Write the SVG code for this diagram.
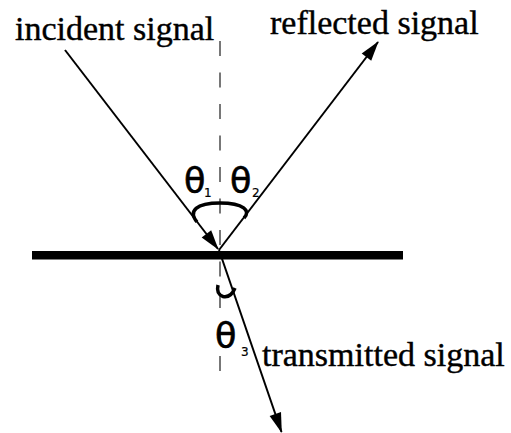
<svg xmlns="http://www.w3.org/2000/svg" width="511" height="433" viewBox="0 0 511 433">
<defs>
<style>
.lbl{font-family:"Liberation Serif","Times New Roman",serif;font-size:34px;fill:#000;stroke:#000;stroke-width:0.4}
.th{font-family:"DejaVu Sans","Liberation Sans",sans-serif;font-size:35px;fill:#000;stroke:#000;stroke-width:0.6}
.sub{font-family:"DejaVu Sans","Liberation Sans",sans-serif;font-size:12px;fill:#000;stroke:#000;stroke-width:0.2}
.ray{stroke:#000;stroke-width:2;fill:none}
.arc{stroke:#000;stroke-width:3.5;fill:none}
</style>
<marker id="ah" markerUnits="userSpaceOnUse" markerWidth="24" markerHeight="16" viewBox="-20 -8 22 16" refX="0" refY="0" orient="auto">
<path d="M1,0 L-19,-6 L-19,6 Z" fill="#000"/>
</marker>
</defs>
<rect width="511" height="433" fill="#fff"/>
<g id="surface">
<rect x="32" y="251" width="371" height="8.5" fill="#000"/>
</g>
<g id="normal">
<line x1="220" y1="41" x2="220" y2="384" stroke="#777" stroke-width="2" stroke-dasharray="15 16.5"/>
</g>
<g id="connectors">
<line class="ray" x1="65" y1="50" x2="218" y2="249" marker-end="url(#ah)"/>
<line class="ray" x1="219" y1="250" x2="378" y2="42" marker-end="url(#ah)"/>
<line class="ray" x1="219" y1="250" x2="281.5" y2="432" marker-end="url(#ah)"/>
</g>
<g id="angles">
<path class="arc" d="M197,222 C188,211 196,203 220,203 C244,203 251,211 244,218"/>
<path class="arc" d="M218,285 Q216,294 223,296.5 Q231,298 235,288"/>
</g>
<g id="incident-label"><text class="lbl" x="15" y="40">incident signal</text></g>
<g id="reflected-label"><text class="lbl" x="270" y="34">reflected signal</text></g>
<g id="transmitted-label"><text class="lbl" x="262" y="366">transmitted signal</text></g>
<g id="theta1"><text class="th" x="184" y="193">θ</text><text class="sub" x="204" y="197">1</text></g>
<g id="theta2"><text class="th" x="230" y="193">θ</text><text class="sub" x="252" y="197">2</text></g>
<g id="theta3"><text class="th" x="215" y="348">θ</text><text class="sub" x="241" y="356">3</text></g>
</svg>
